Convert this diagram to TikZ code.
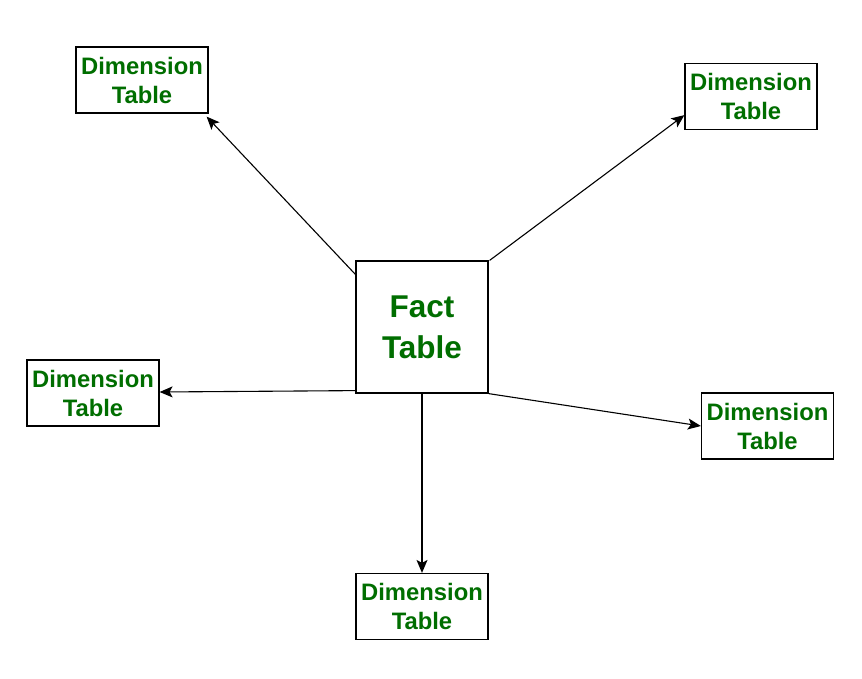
\documentclass[tikz,border=0pt]{standalone}
\usepackage{fontspec}
\setmainfont{Liberation Sans}
\usetikzlibrary{arrows.meta,calc}
\definecolor{dgreen}{RGB}{0,110,0}
\tikzset{
  tbl/.style={draw=black, line width=1.2pt, fill=white, inner sep=0pt, align=center, text=dgreen},
  dim/.style={tbl, minimum width=132pt, minimum height=66pt, font=\fontsize{23.8}{29}\selectfont\bfseries},
  fact/.style={tbl, minimum width=132pt, minimum height=132pt, font=\fontsize{31.5}{41}\selectfont\bfseries},
  conn/.style={draw=black, line width=1.1pt, -{Stealth[length=13pt,width=11pt,inset=3pt]}}
}
\begin{document}
\begin{tikzpicture}[x=1pt,y=-1pt]
\useasboundingbox (0,0) rectangle (862,678);
\node[fact] (f) at (422,327) {Fact\\Table};
\node[dim] (tl) at (142,80) {Dimension\\Table};
\node[dim] (tr) at (751,96.5) {Dimension\\Table};
\node[dim] (l) at (93,393) {Dimension\\Table};
\node[dim] (r) at (767.5,426) {Dimension\\Table};
\node[dim] (b) at (422,606.5) {Dimension\\Table};
\coordinate (s1) at ($(f.north west)+(0,14)$);
\coordinate (e1) at ($(tl.south east)+(-2,3)$);
\coordinate (s2) at ($(f.north east)+(1,0)$);
\coordinate (e2) at ($(tr.south west)+(0,-15)$);
\coordinate (s3) at ($(f.south west)+(0,-3)$);
\coordinate (e3) at ($(l.east)+(0,-1)$);
\draw[conn] (s1) -- (e1);
\draw[conn] (s2) -- (e2);
\draw[conn] (s3) -- (e3);
\draw[conn] (f.south east) -- (r.west);
\draw[conn] (f.south) -- (b.north);
\end{tikzpicture}
\end{document}
